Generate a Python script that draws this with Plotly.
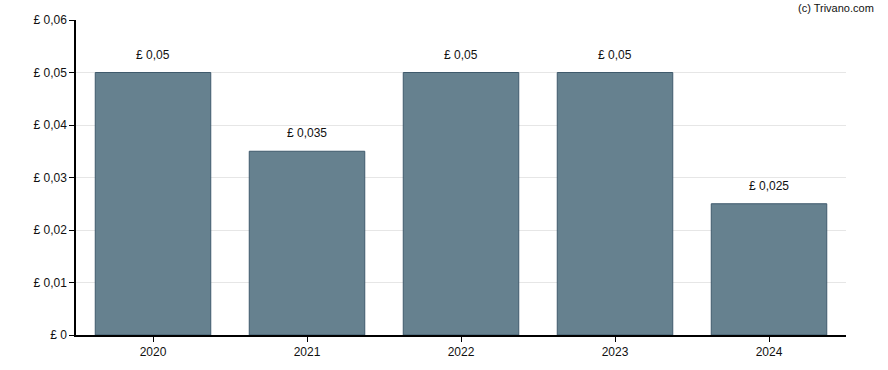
import plotly.graph_objects as go

years = ["2020", "2021", "2022", "2023", "2024"]
dividends = [0.05, 0.035, 0.05, 0.05, 0.025]
tick_values = [0, 0.01, 0.02, 0.03, 0.04, 0.05, 0.06]
tick_labels = ["£ 0", "£ 0,01", "£ 0,02", "£ 0,03", "£ 0,04", "£ 0,05", "£ 0,06"]

def fmt(v):
    s = ("%.3f" % v).rstrip("0")
    if s.endswith("."):
        s = s[:-1]
    return "£ " + s.replace(".", ",")

fig = go.Figure()
fig.add_trace(go.Bar(
    x=years, y=dividends,
    marker=dict(color="#66818f", line=dict(color="#3f5a6c", width=1)),
    width=0.75,
    hoverinfo="skip",
))

for i, v in enumerate(dividends):
    fig.add_annotation(x=i, y=v, text=fmt(v), showarrow=False,
                       yanchor="bottom", yshift=9,
                       font=dict(family="Liberation Sans, Arial", size=12, color="#111"))

fig.add_annotation(xref="paper", yref="paper", x=1.039, y=1.0, yshift=20,
                   xanchor="right", yanchor="top", text="(c) Trivano.com",
                   showarrow=False,
                   font=dict(family="Liberation Sans, Arial", size=11, color="#111"))

fig.update_layout(
    width=888, height=370,
    margin=dict(l=76, r=42, t=20, b=35),
    paper_bgcolor="white", plot_bgcolor="white",
    showlegend=False,
    font=dict(family="Liberation Sans, Arial", size=12, color="#111"),
)
fig.update_xaxes(
    type="category",
    range=[-0.5, len(years) - 0.5],
    showline=True, linecolor="black", linewidth=1.5,
    ticks="outside", ticklen=5, tickcolor="black",
    showgrid=False,
    tickfont=dict(size=12),
)
fig.update_yaxes(
    range=[0, 0.06],
    tickvals=tick_values, ticktext=tick_labels,
    showline=True, linecolor="black", linewidth=1.5,
    ticks="outside", ticklen=5, tickcolor="black",
    showgrid=True, gridcolor="#e6e6e6", gridwidth=1,
    zeroline=False,
    tickfont=dict(size=12),
)

fig.write_html("out.html")
